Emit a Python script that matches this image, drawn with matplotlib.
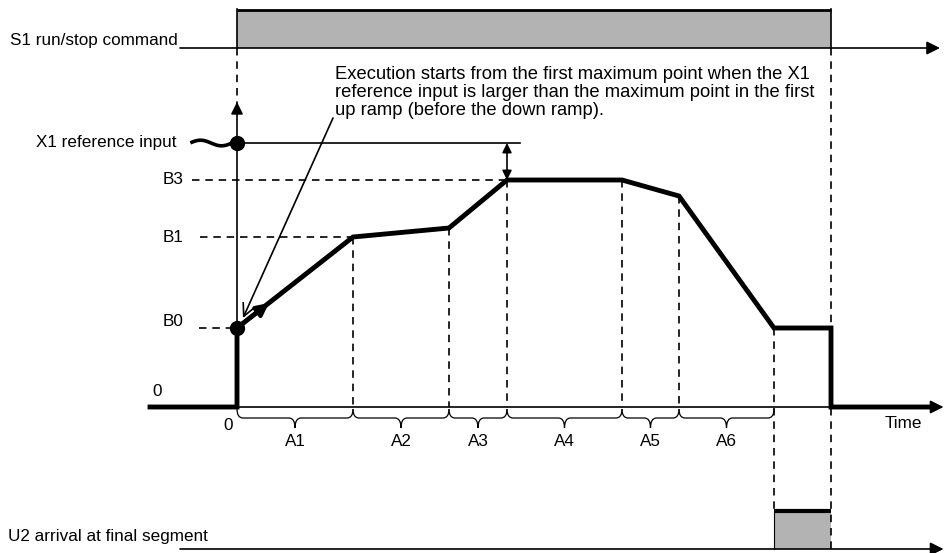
import numpy as np
import matplotlib
matplotlib.use("Agg")
import matplotlib.pyplot as plt
from matplotlib.path import Path
from matplotlib.patches import PathPatch, Rectangle

plt.rcParams['font.family'] = ['Liberation Sans', 'DejaVu Sans']

# ---------------- data ----------------
# time breakpoints: start, end of A1..A6, stop command
t_points = [0.0, 11.6, 21.2, 27.0, 38.5, 44.2, 53.7, 59.4]
# output value at each breakpoint
v_points = [79, 170, 179, 227, 227, 211, 79, 79]
seg_labels = ['A1', 'A2', 'A3', 'A4', 'A5', 'A6']
level_names = ['B0', 'B1', 'B3']
level_values = [79, 170, 227]
x1_ref = 264
t_pre = -8.7      # start of time axis
t_end = 69.5      # end of bold output line after stop
t_start, t_stop = 0.0, 59.4     # S1 run command on/off
u2_on, u2_off = 53.7, 59.4      # U2 final segment signal

# ---------------- layout ----------------
fig = plt.figure(figsize=(9.44, 5.53), dpi=100)
ax = fig.add_axes([0, 0, 1, 1])
ax.set_xlim(-23.7, 70.7)
ax.set_ylim(-146, 407)
ax.axis('off')

FS = 12.3
LW = 1.2
BOLD = 3.5
dash = (0, (4.5, 3.5))
s1_base, s1_high = 359, 397
u2_base, u2_high = -142, -104
grey = '#b3b3b3'


def arrow(xy, xytext, style='-|>', lw=LW, ms=20, z=3):
    ax.annotate('', xy=xy, xytext=xytext, annotation_clip=False,
                arrowprops=dict(arrowstyle=style, lw=lw, color='k', mutation_scale=ms,
                                shrinkA=0, shrinkB=0), zorder=z)


# ---- S1 run/stop command row ----
ax.add_patch(Rectangle((t_start, s1_base), t_stop - t_start, s1_high - s1_base,
                       facecolor=grey, edgecolor='none', zorder=1))
ax.plot([t_start, t_stop], [s1_high, s1_high], color='k', lw=2.0, zorder=2,
        solid_capstyle='butt')
ax.plot([t_start, t_start], [s1_base, s1_high + 0.8], color='k', lw=LW, zorder=2)
ax.plot([t_stop, t_stop], [s1_base, s1_high + 0.8], color='k', lw=LW, zorder=2)
arrow((70.3, s1_base), (-5.7, s1_base))
ax.text(-5.9, s1_base + 7, 'S1 run/stop command', ha='right', va='center', fontsize=FS)

# ---- U2 row ----
ax.add_patch(Rectangle((u2_on, u2_base), u2_off - u2_on, u2_high - u2_base,
                       facecolor=grey, edgecolor='none', zorder=1))
ax.plot([u2_on, u2_off], [u2_high, u2_high], color='k', lw=3.0, zorder=2,
        solid_capstyle='butt')
ax.plot([u2_on, u2_on], [u2_base, u2_high], color='k', lw=0.8, zorder=2)
arrow((70.65, u2_base), (-5.7, u2_base))
ax.text(-22.9, u2_base + 13, 'U2 arrival at final segment', ha='left', va='center',
        fontsize=FS)

# ---- axes of the main chart ----
arrow((t_start, 305), (t_start, 0), ms=18)
arrow((70.65, 0), (t_pre, 0))
ax.text(-8.0, 16, '0', ha='center', va='center', fontsize=FS)
ax.text(-0.9, -18, '0', ha='center', va='center', fontsize=FS)
ax.text(66.6, -16, 'Time', ha='center', va='center', fontsize=FS)

# ---- dashed guide lines ----
ax.plot([t_start, t_start], [s1_base, 300], color='k', lw=LW, ls=dash)
ax.plot([t_stop, t_stop], [s1_base, u2_base], color='k', lw=LW, ls=dash, zorder=1.5)
ax.plot([t_points[6], t_points[6]], [v_points[6], u2_high], color='k', lw=LW, ls=dash,
        zorder=1.5)
for tp, vp in zip(t_points[1:6], v_points[1:6]):
    ax.plot([tp, tp], [vp, 0], color='k', lw=LW, ls=dash)
level_start = {'B0': -3.8, 'B1': -3.7, 'B3': -4.5}
level_end = {'B0': t_points[0], 'B1': t_points[1], 'B3': t_points[3]}
for name, val in zip(level_names, level_values):
    ax.plot([level_start[name], level_end[name]], [val, val], color='k', lw=LW, ls=dash)
    ax.text(-5.3, val + (6 if name == 'B0' else 0), name, ha='right', va='center',
            fontsize=FS)

# ---- X1 reference input ----
ax.plot([t_start, 28.3], [x1_ref, x1_ref], color='k', lw=LW)
tw = np.linspace(-4.5, -0.3, 60)
ax.plot(tw, x1_ref + 2.8 * np.sin(2 * np.pi * (tw + 4.5) / 4.2 + 0.3), color='k', lw=2.6)
ax.plot([t_start], [x1_ref], 'o', color='k', ms=10, zorder=5)
ax.text(-6.1, x1_ref, 'X1 reference input', ha='right', va='center', fontsize=FS)
arrow((t_points[3], v_points[3]), (t_points[3], x1_ref), style='<|-|>', ms=14)

# ---- output curve ----
tx = [t_pre, t_start, t_start] + t_points + [t_stop, t_end]
vy = [0, 0, v_points[0]] + v_points + [0, 0]
ax.plot(tx, vy, color='k', lw=BOLD, solid_joinstyle='miter', zorder=4)
ax.plot([t_start], [v_points[0]], 'o', color='k', ms=10, zorder=5)
arrow((3.2, 104), (t_start, v_points[0]), lw=3, ms=18, z=5)

# ---- annotation ----
ax.text(9.8, 341, 'Execution starts from the first maximum point when the X1\n'
        'reference input is larger than the maximum point in the first\n'
        'up ramp (before the down ramp).', ha='left', va='top', fontsize=13.2,
        linespacing=1.07)
arrow((0.6, 89), (9.6, 289), style='->', ms=22)

# ---- braces under the time axis ----
def brace(t1, t2, top=-2, mid=-11, tip=-21, r=0.6):
    tm = (t1 + t2) / 2
    verts = [(t1, top), (t1, mid), (t1 + r, mid), (tm - r, mid), (tm, mid), (tm, tip),
             (tm, mid), (tm + r, mid), (t2 - r, mid), (t2, mid), (t2, top)]
    codes = [Path.MOVETO, Path.CURVE3, Path.CURVE3, Path.LINETO, Path.CURVE3, Path.CURVE3,
             Path.CURVE3, Path.CURVE3, Path.LINETO, Path.CURVE3, Path.CURVE3]
    ax.add_patch(PathPatch(Path(verts, codes), facecolor='none', edgecolor='k', lw=0.9))

for i, lab in enumerate(seg_labels):
    t1, t2 = t_points[i], t_points[i + 1]
    brace(t1, t2)
    ax.text((t1 + t2) / 2, -35, lab, ha='center', va='center', fontsize=FS)

fig.savefig('out.png', dpi=100)
